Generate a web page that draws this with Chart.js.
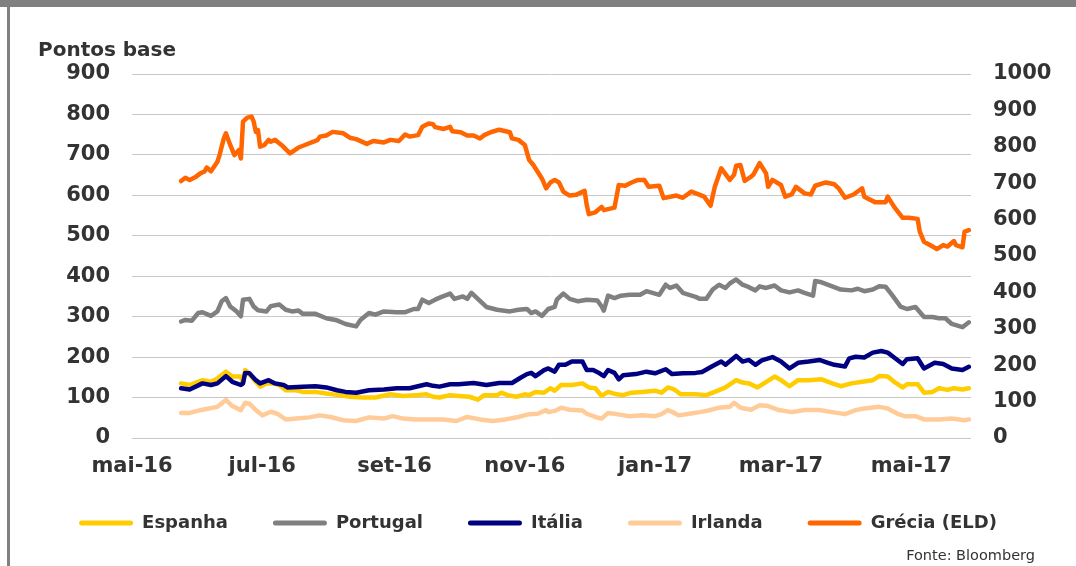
<!DOCTYPE html>
<html>
<head>
<meta charset="utf-8">
<script src="https://cdn.jsdelivr.net/npm/chart.js@4/dist/chart.umd.min.js"></script>
<style>
  html, body { margin: 0; padding: 0; background: #fff; }
  #wrap { position: relative; width: 1076px; height: 566px; overflow: hidden; }
  #topbar { position: absolute; left: 0; top: 0; width: 1076px; height: 7px; background: #808080; }
  #leftbar { position: absolute; left: 7px; top: 0; width: 2.5px; height: 566px; background: #808080; }
  canvas { position: absolute; left: 0; top: 0; }
</style>
</head>
<body>
<div id="wrap">
  <canvas id="chart" width="1076" height="566"></canvas>
  <div id="topbar"></div>
  <div id="leftbar"></div>
</div>
<script>
// x = dias desde 1 mai 2016, y = pontos base
const xTickDays = [0, 61, 123, 184, 245, 304, 365];
const xTickLabels = ["mai-16", "jul-16", "set-16", "nov-16", "jan-17", "mar-17", "mai-17"];

const yTitle = "Pontos base";
const sourceNote = "Fonte: Bloomberg";

const espanha = [[23,135],[27,131],[33,143],[37,139],[40,147],[44,164],[47,152],[51,152],[52,135],[53,168],[54,164],[58,139],[60,127],[63,135],[66,135],[69,131],[72,118],[77,118],[80,114],[86,114],[91,110],[97,106],[102,102],[108,100],[114,100],[121,108],[127,104],[133,106],[138,108],[141,102],[144,100],[149,106],[153,104],[158,102],[162,95],[165,106],[171,106],[173,112],[176,106],[180,102],[184,108],[186,106],[189,114],[193,112],[196,123],[198,117],[201,131],[206,131],[211,135],[214,125],[217,123],[220,104],[223,114],[227,108],[230,106],[234,112],[239,114],[245,117],[248,112],[251,125],[254,120],[257,108],[264,108],[269,106],[273,114],[278,125],[283,143],[286,137],[289,135],[293,125],[296,135],[301,152],[304,143],[308,128],[312,143],[317,143],[323,145],[328,135],[332,128],[337,135],[342,139],[347,143],[350,153],[354,152],[357,139],[361,125],[363,133],[368,133],[371,112],[375,114],[378,123],[382,119],[385,123],[389,120],[392,123]];

const portugal = [[23,288],[25,292],[28,290],[31,309],[33,311],[37,302],[40,313],[42,338],[44,346],[46,325],[49,313],[51,301],[52,342],[55,344],[57,325],[59,316],[63,313],[65,326],[69,330],[72,317],[75,313],[78,315],[80,307],[86,307],[91,296],[96,291],[100,282],[105,276],[107,292],[111,309],[114,305],[118,313],[124,311],[128,311],[132,319],[134,319],[136,342],[139,334],[142,342],[145,349],[149,357],[151,344],[155,350],[157,344],[159,359],[161,349],[166,324],[171,317],[177,313],[181,317],[185,319],[187,309],[189,313],[192,302],[195,319],[198,324],[199,342],[202,357],[205,344],[209,338],[213,342],[218,340],[220,325],[221,315],[223,352],[226,346],[229,352],[233,354],[238,354],[241,363],[247,354],[250,379],[252,371],[255,377],[258,359],[264,349],[266,344],[269,344],[272,367],[275,379],[278,371],[280,382],[283,392],[286,379],[289,373],[292,365],[294,375],[297,371],[301,377],[304,365],[308,360],[312,365],[315,359],[319,352],[320,388],[323,385],[328,375],[332,367],[337,365],[340,369],[343,363],[347,367],[350,375],[353,374],[356,354],[360,325],[363,319],[367,324],[371,299],[375,299],[378,296],[381,296],[384,282],[389,274],[392,286]];

const italia = [[23,123],[27,120],[33,135],[37,131],[40,135],[44,153],[47,139],[51,131],[52,135],[53,161],[55,160],[58,143],[60,135],[64,143],[67,135],[71,131],[73,125],[80,127],[86,128],[91,125],[96,118],[100,114],[105,112],[111,118],[118,120],[124,123],[130,123],[138,133],[141,129],[144,127],[149,133],[153,133],[160,136],[166,131],[172,136],[178,136],[182,149],[185,158],[187,161],[189,153],[193,168],[195,172],[198,164],[200,181],[203,181],[206,189],[211,189],[213,168],[216,168],[219,160],[221,153],[223,168],[226,161],[228,145],[230,155],[236,158],[241,164],[245,160],[250,170],[253,158],[258,160],[264,161],[267,163],[272,178],[276,189],[278,181],[283,203],[286,189],[289,193],[292,181],[295,192],[300,200],[304,189],[308,172],[312,186],[317,189],[322,193],[326,186],[329,181],[334,177],[336,197],[339,201],[343,199],[347,211],[351,215],[354,211],[357,199],[361,183],[363,195],[368,197],[371,172],[376,186],[380,183],[384,172],[389,168],[392,176]];

const irlanda = [[23,62],[27,62],[33,70],[40,77],[44,94],[47,79],[51,69],[53,87],[55,85],[58,69],[61,56],[65,65],[68,60],[72,46],[77,48],[83,51],[88,56],[93,52],[99,44],[105,42],[111,51],[118,48],[122,54],[127,48],[133,46],[139,46],[146,46],[152,42],[157,52],[163,46],[169,42],[175,46],[181,52],[186,59],[190,60],[194,69],[195,64],[198,67],[201,75],[205,70],[211,68],[213,60],[217,52],[220,48],[223,62],[227,59],[233,54],[239,56],[245,54],[248,59],[251,69],[254,62],[256,56],[261,60],[266,64],[270,68],[275,75],[280,77],[282,87],[285,75],[290,70],[294,81],[298,79],[303,69],[309,64],[315,69],[322,69],[328,64],[334,59],[339,69],[343,73],[350,77],[354,73],[359,59],[362,54],[367,54],[371,46],[378,46],[384,48],[390,44],[392,46]];

// eixo da direita
const grecia = [[23,706],[25,715],[27,709],[30,718],[32,727],[34,732],[35,743],[37,733],[40,759],[41,777],[43,823],[44,837],[46,805],[48,777],[50,791],[51,768],[52,869],[54,880],[56,883],[57,869],[58,841],[59,846],[60,800],[62,805],[64,819],[65,814],[67,819],[70,805],[74,782],[78,798],[81,805],[85,814],[87,819],[88,828],[91,831],[94,841],[99,837],[102,825],[105,821],[110,808],[113,816],[118,812],[121,819],[125,816],[128,834],[130,828],[134,832],[136,855],[139,864],[141,862],[142,854],[146,849],[149,855],[150,843],[154,840],[157,831],[160,831],[163,823],[165,832],[168,840],[172,847],[177,840],[178,823],[181,819],[184,805],[186,764],[188,750],[192,713],[194,686],[196,702],[198,709],[200,702],[202,677],[205,666],[208,668],[212,679],[213,640],[214,615],[217,620],[220,635],[221,626],[226,633],[228,695],[231,693],[234,702],[237,709],[240,709],[242,690],[247,693],[249,659],[255,666],[258,660],[262,677],[266,668],[268,663],[271,638],[273,690],[276,741],[280,709],[282,723],[283,748],[285,750],[287,706],[290,718],[291,723],[294,755],[297,727],[298,690],[300,709],[304,695],[306,663],[309,669],[311,690],[315,672],[318,669],[320,693],[325,702],[329,697],[331,686],[334,660],[338,669],[342,686],[343,663],[348,648],[353,648],[354,663],[357,635],[361,605],[364,605],[368,602],[369,567],[371,539],[375,526],[377,519],[380,530],[382,526],[385,541],[386,530],[389,524],[390,567],[392,571]];

const toPoints = (arr) => arr.map(([x, y]) => ({ x, y }));

const textColor = "#333333";
Chart.defaults.font.family = "'DejaVu Sans', Verdana, sans-serif";
Chart.defaults.color = textColor;

function line(label, data, color, order, axis) {
  return {
    label,
    data: toPoints(data),
    borderColor: color,
    backgroundColor: color,
    borderWidth: 4.5,
    pointRadius: 0,
    tension: 0,
    fill: false,
    borderCapStyle: "round",
    borderJoinStyle: "round",
    order,
    yAxisID: axis,
  };
}

const extraText = {
  id: "extraText",
  afterLayout(chart) {
    // legenda um pouco mais perto do eixo
    if (chart.legend) {
      chart.legend.top -= 11;
      chart.legend.bottom -= 11;
    }
  },
  afterDraw(chart) {
    const ctx = chart.ctx;
    ctx.save();
    ctx.fillStyle = textColor;
    ctx.textBaseline = "alphabetic";
    ctx.textAlign = "left";
    ctx.font = "bold 20px 'DejaVu Sans'";
    ctx.fillText(yTitle, 38, 56);
    ctx.textAlign = "right";
    ctx.font = "14.5px 'DejaVu Sans'";
    ctx.fillText(sourceNote, 1035, 560);
    ctx.restore();
  },
};

const tickFont = { size: 21, weight: "bold" };

new Chart(document.getElementById("chart"), {
  type: "line",
  data: {
    datasets: [
      line("Espanha", espanha, "#ffcc00", 1, "y"),
      line("Portugal", portugal, "#808080", 2, "y"),
      line("Itália", italia, "#000080", 0, "y"),
      line("Irlanda", irlanda, "#ffcc99", 3, "y"),
      line("Grécia (ELD)", grecia, "#ff6600", 0, "y1"),
    ],
  },
  options: {
    responsive: false,
    animation: false,
    layout: { padding: { top: 74, bottom: 13, left: 0, right: 0 } },
    plugins: {
      tooltip: { enabled: false },
      legend: {
        position: "bottom",
        labels: {
          boxWidth: 54,
          boxHeight: 5,
          padding: 45,
          color: textColor,
          font: { size: 18, weight: "bold" },
          useBorderRadius: true,
          borderRadius: 2.5,
          sort: (a, b) => a.datasetIndex - b.datasetIndex,
          generateLabels: (chart) =>
            Chart.defaults.plugins.legend.labels
              .generateLabels(chart)
              .map((l) => ({ ...l, lineWidth: 0, fillStyle: l.strokeStyle })),
        },
      },
    },
    scales: {
      x: {
        type: "linear",
        min: 0,
        max: 393,
        afterBuildTicks: (scale) => {
          scale.ticks = xTickDays.map((v) => ({ value: v }));
        },
        afterFit: (scale) => {
          scale.height = 42;
        },
        grid: { display: false, drawTicks: false },
        border: { display: false },
        ticks: {
          autoSkip: false,
          maxRotation: 0,
          padding: 16,
          font: tickFont,
          callback: (v, i) => xTickLabels[i],
        },
      },
      y: {
        position: "left",
        min: 0,
        max: 900,
        afterFit: (scale) => {
          scale.width = 132;
        },
        grid: {
          display: true,
          drawOnChartArea: true,
          color: "#c8c8c8",
          lineWidth: 1,
          drawTicks: false,
        },
        border: { display: false },
        ticks: { stepSize: 100, padding: 22, font: tickFont },
      },
      y1: {
        position: "right",
        min: 0,
        max: 1000,
        afterFit: (scale) => {
          scale.width = 105;
        },
        grid: { display: false, drawTicks: false },
        border: { display: false },
        ticks: {
          stepSize: 100,
          padding: 22,
          font: tickFont,
          callback: (v) => String(v),
        },
      },
    },
  },
  plugins: [extraText],
});
</script>
</body>
</html>
